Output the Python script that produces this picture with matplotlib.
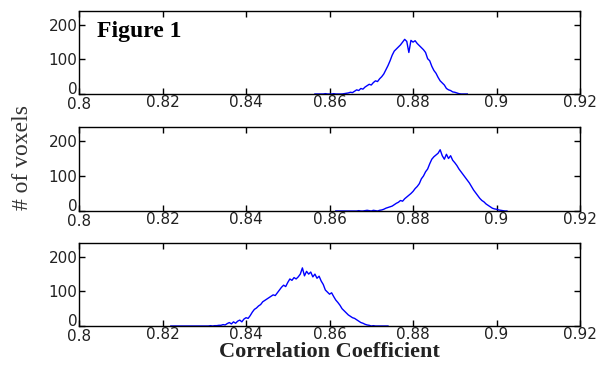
import numpy as np
import matplotlib
matplotlib.use("Agg")
import matplotlib.pyplot as plt
from matplotlib.transforms import ScaledTranslation

# ===============================
# data: histogram counts
# bin width 0.0005, first bin given by *_start
# ===============================
step = 0.0005

p1_start = 0.8565
p1_counts = [0, 0, 0, 0, 0, 1, 0, 0, 0, 1, 0, 0, 0, 0, 1, 2, 3, 5, 4, 8,
             12, 10, 16, 14, 20, 24, 28, 26, 33, 38, 36, 44, 50, 58, 70, 82, 96, 112, 124, 130,
             136, 142, 150, 158, 152, 120, 155, 150, 154, 146, 140, 134, 128, 120, 102, 96, 80, 68, 60, 48,
             38, 32, 26, 16, 12, 10, 6, 5, 3, 1, 0, 0, 0, 0]

p2_start = 0.8615
p2_counts = [0, 0, 0, 0, 0, 0, 0, 0, 0, 0, 0, 1, 0, 0, 1, 2, 1, 0, 2, 1, 0,
             2, 3, 5, 8, 10, 12, 14, 18, 22, 25, 30, 28, 35, 40, 45, 50, 56, 64, 70, 78,
             92, 100, 112, 120, 135, 148, 155, 160, 165, 175, 158, 148, 162, 150, 158, 145, 138, 130, 120, 112,
             104, 96, 88, 80, 70, 60, 52, 44, 36, 30, 26, 20, 16, 12, 8, 6, 5, 3, 2, 1, 0, 0]

p3_start = 0.822
p3_counts = [0, 0, 0, 0, 0, 0, 0, 0, 0, 0, 0, 0, 0, 0, 0, 0, 0, 0, 0, 1, 0, 1,
             1, 2, 2, 4, 3, 7, 10, 6, 12, 8, 14, 17, 12, 20, 24, 22, 30, 40, 48, 52,
             58, 62, 70, 74, 78, 82, 86, 90, 88, 96, 104, 112, 118, 114, 126, 136, 132, 140, 136, 142,
             150, 168, 145, 158, 150, 156, 142, 150, 138, 144, 130, 120, 104, 98, 92, 96, 85, 75, 68, 60,
             50, 44, 38, 32, 28, 24, 22, 18, 14, 10, 8, 5, 3, 2, 0, 1, 0, 0, 0, 0, 0, 0, 0]

panels = [(p1_start, p1_counts), (p2_start, p2_counts), (p3_start, p3_counts)]

x_ticks = [0.8, 0.82, 0.84, 0.86, 0.88, 0.9, 0.92]
x_labels = ["0.8", "0.82", "0.84", "0.86", "0.88", "0.9", "0.92"]
y_ticks = [0, 100, 200]

# ===============================
# figure
# ===============================
fig = plt.figure(figsize=(5.96, 3.66), dpi=100)
boxes = [[0.1326, 0.7432, 0.8406, 0.2268],
         [0.1326, 0.4235, 0.8406, 0.2295],
         [0.1326, 0.1093, 0.8406, 0.2268]]

for box, (start, counts) in zip(boxes, panels):
    ax = fig.add_axes(box)
    x = start + step * np.arange(len(counts))
    ax.plot(x, counts, color=(0, 0, 1), lw=1.0)
    ax.set_xlim(0.8, 0.92)
    ax.set_ylim(0, 240)
    ax.set_xticks(x_ticks)
    ax.set_xticklabels(x_labels)
    ax.set_yticks(y_ticks)
    ax.tick_params(direction="in", top=True, right=True, length=4, width=1,
                   labelsize=11, pad=1.0, labelcolor="#222222")
    for lab in ax.get_xticklabels() + ax.get_yticklabels():
        lab.set_family("DejaVu Sans")
    # the "0" on the y axis sits a little above the axis line
    ylab0 = ax.get_yticklabels()[0]
    ylab0.set_transform(ylab0.get_transform() + ScaledTranslation(0, 4 / 72, fig.dpi_scale_trans))
    xlab0 = ax.get_xticklabels()[0]
    xlab0.set_transform(xlab0.get_transform() + ScaledTranslation(0, -1 / 72, fig.dpi_scale_trans))
    for s in ax.spines.values():
        s.set_linewidth(1.0)

fig.text(0.162, 0.915, "Figure 1", fontsize=17, fontweight="bold",
         family="Liberation Serif", ha="left", va="center")
fig.text(0.037, 0.571, "# of voxels", fontsize=17, rotation=90,
         family="Liberation Serif", ha="center", va="center", color="#333333")
fig.text(0.553, 0.038, "Correlation Coefficient", fontsize=16, fontweight="bold",
         family="Liberation Serif", ha="center", va="center", color="#222222")

fig.savefig("out.png", dpi=100)
plt.close(fig)
